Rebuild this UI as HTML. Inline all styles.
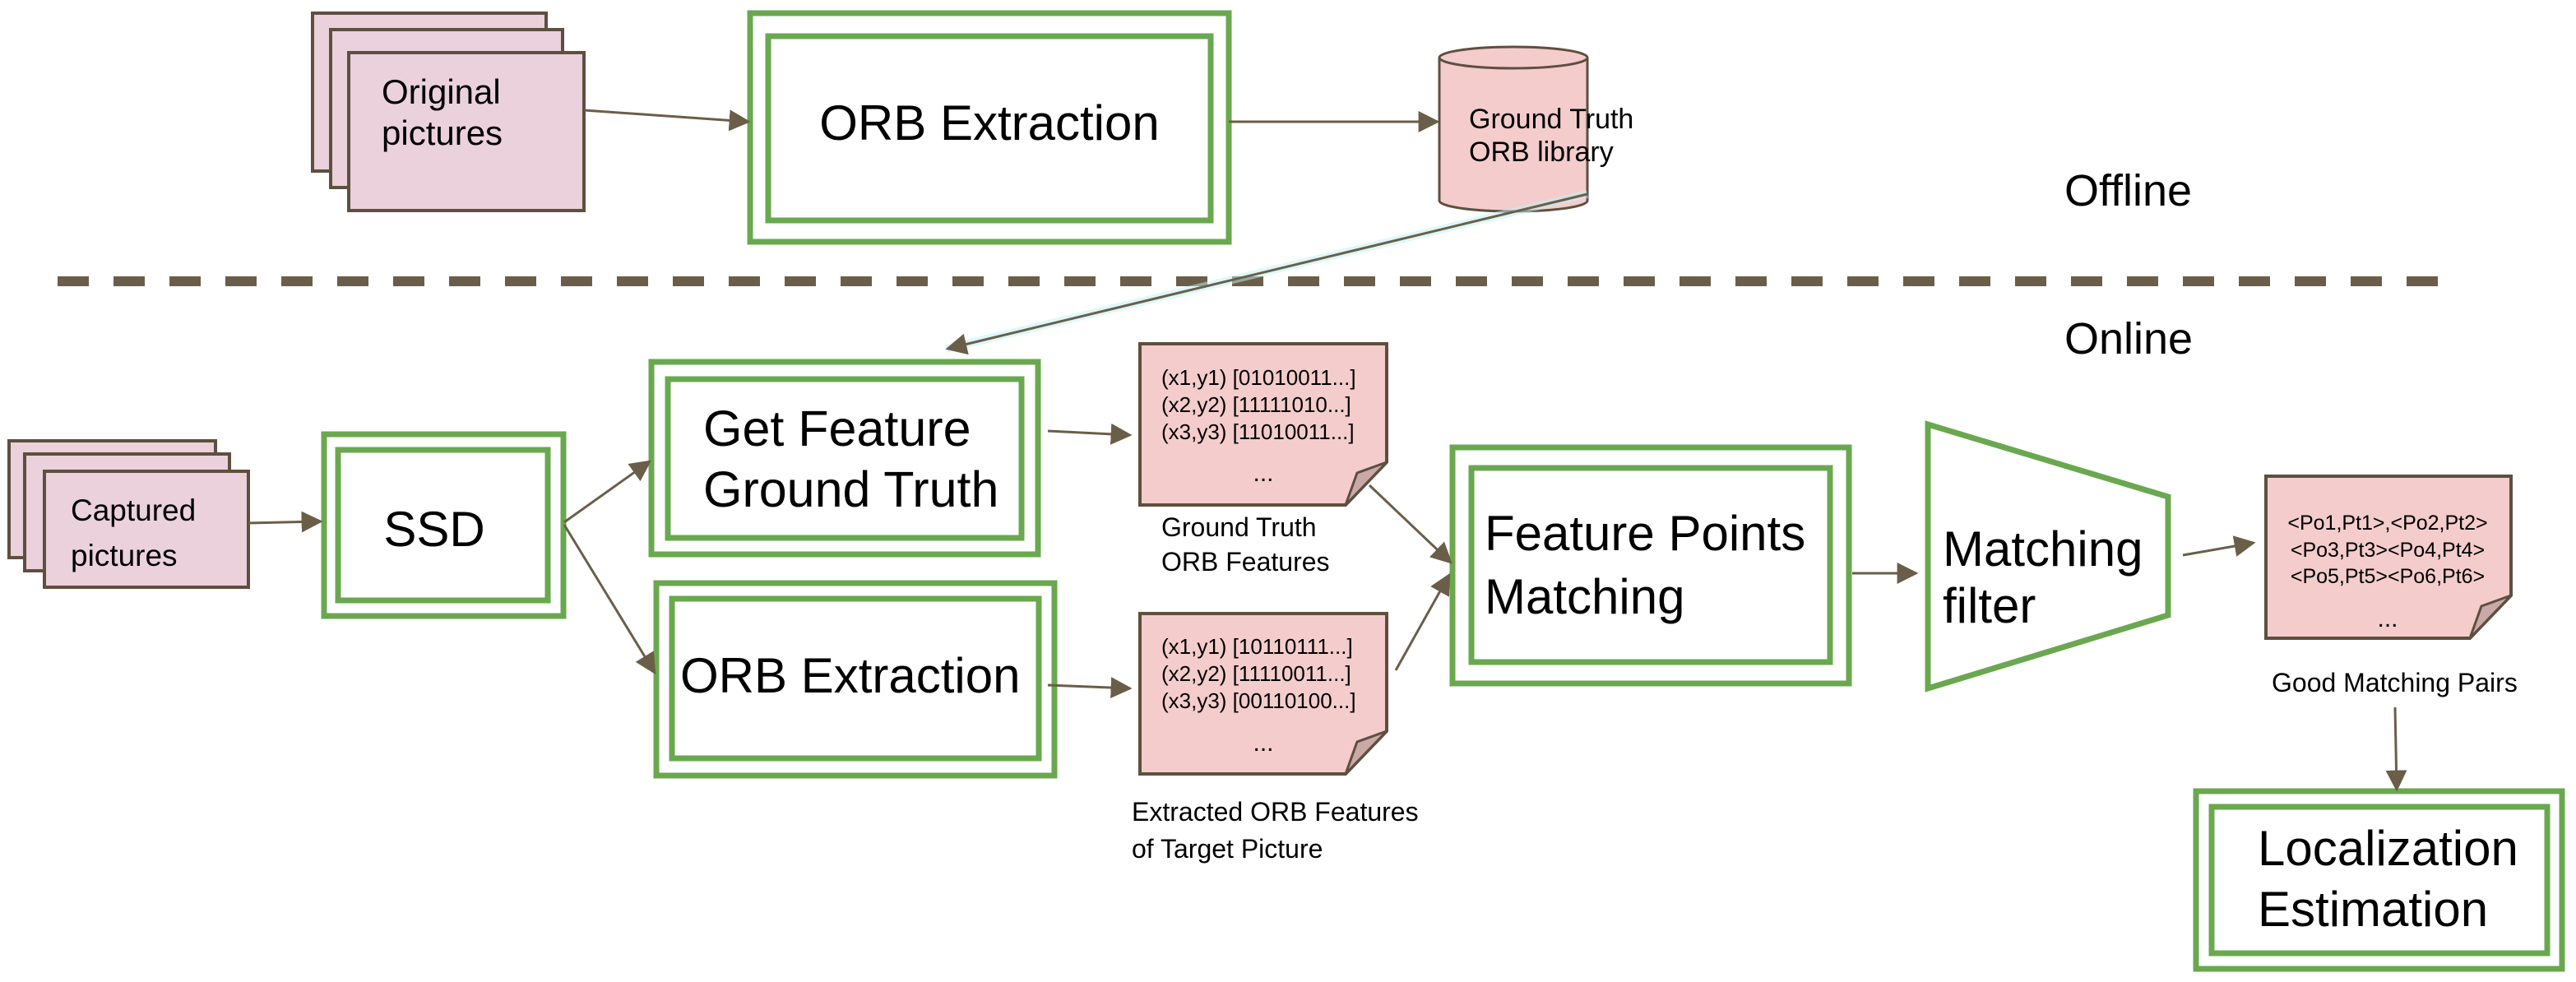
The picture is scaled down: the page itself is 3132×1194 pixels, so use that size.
<!DOCTYPE html>
<html><head><meta charset="utf-8"><style>
html,body{margin:0;padding:0;background:#fff}
svg{display:block}
text{font-family:"Liberation Sans",sans-serif;fill:#000}
</style></head><body>
<svg width="3132" height="1194" viewBox="0 0 3132 1194" xmlns="http://www.w3.org/2000/svg">
<defs>
<marker id="a" viewBox="0 0 10 10" refX="9" refY="5" markerWidth="26" markerHeight="26" markerUnits="userSpaceOnUse" orient="auto"><path d="M0,0 L10,5 L0,10 z" fill="#6b5e48"/></marker>
</defs>
<g fill="#ead1dc" stroke="#5e4f3f" stroke-width="4">
<rect x="380" y="16" width="284" height="192"/>
<rect x="402" y="36" width="282" height="192"/>
<rect x="424" y="64" width="286" height="192"/>
<rect x="11" y="536" width="251" height="142"/>
<rect x="30" y="552" width="249" height="142"/>
<rect x="54" y="573" width="248" height="141"/>
</g>
<text x="464" y="126" font-size="42">Original</text>
<text x="464" y="176" font-size="42">pictures</text>
<text x="86" y="633" font-size="37">Captured</text>
<text x="86" y="688" font-size="37">pictures</text>
<g fill="#fff" stroke="#6aa84f" stroke-width="7">
<rect x="912" y="16" width="582" height="278"/><rect x="934" y="44" width="538" height="224"/>
<rect x="394" y="528" width="291" height="221"/><rect x="411" y="547" width="255" height="183"/>
<rect x="792" y="440" width="470" height="234"/><rect x="812" y="461" width="430" height="193"/>
<rect x="798" y="709" width="484" height="234"/><rect x="817" y="728" width="446" height="194"/>
<rect x="1766" y="544" width="482" height="287"/><rect x="1789" y="569" width="436" height="236"/>
<rect x="2670" y="962" width="445" height="216"/><rect x="2689" y="981" width="408" height="178"/>
<path d="M2344,516 L2636,604 L2636,748 L2344,837 Z"/>
</g>
<text x="1203" y="170" font-size="60" text-anchor="middle">ORB Extraction</text>
<text x="528" y="664" font-size="60" text-anchor="middle">SSD</text>
<text x="855" y="542" font-size="61">Get Feature</text>
<text x="855" y="616" font-size="61">Ground Truth</text>
<text x="827" y="842" font-size="60">ORB Extraction</text>
<text x="1805" y="669" font-size="60">Feature Points</text>
<text x="1805" y="746" font-size="60">Matching</text>
<text x="2362" y="688" font-size="60">Matching</text>
<text x="2362" y="757" font-size="60">filter</text>
<text x="2745" y="1052" font-size="60">Localization</text>
<text x="2745" y="1126" font-size="60">Estimation</text>
<path d="M1750,70 L1750,244 A90,13 0 0 0 1930,244 L1930,70" fill="#f4cccc" stroke="#5e4f3f" stroke-width="3"/>
<ellipse cx="1840" cy="70" rx="90" ry="13" fill="#f4cccc" stroke="#5e4f3f" stroke-width="3"/>
<text x="1786" y="156" font-size="34">Ground Truth</text>
<text x="1786" y="196" font-size="34">ORB library</text>
<text x="2510" y="250" font-size="54">Offline</text>
<text x="2510" y="430" font-size="54">Online</text>
<line x1="70" y1="342" x2="2970" y2="342" stroke="#6b5e48" stroke-width="12" stroke-dasharray="38,30"/>
<g fill="#f4cccc" stroke="#5e4f3f" stroke-width="4">
<path d="M1386,418 L1686,418 L1686,562 L1636,614 L1386,614 Z"/>
<path d="M1386,746 L1686,746 L1686,889 L1636,941 L1386,941 Z"/>
<path d="M2755,579 L3053,579 L3053,724 L3003,776 L2755,776 Z"/>
</g>
<g fill="#c9a9a6" stroke="#5e4f3f" stroke-width="3">
<path d="M1686,562 L1650,575 L1636,614 Z"/>
<path d="M1686,889 L1650,902 L1636,941 Z"/>
<path d="M3053,724 L3017,737 L3003,776 Z"/>
</g>
<g font-size="26">
<text x="1412" y="468">(x1,y1) [01010011...]</text>
<text x="1412" y="501">(x2,y2) [11111010...]</text>
<text x="1412" y="534">(x3,y3) [11010011...]</text>
<text x="1536" y="585" text-anchor="middle" font-size="30">...</text>
<text x="1412" y="795">(x1,y1) [10110111...]</text>
<text x="1412" y="828">(x2,y2) [11110011...]</text>
<text x="1412" y="861">(x3,y3) [00110100...]</text>
<text x="1536" y="913" text-anchor="middle" font-size="30">...</text>
<text x="2903" y="644" text-anchor="middle" font-size="25">&lt;Po1,Pt1&gt;,&lt;Po2,Pt2&gt;</text>
<text x="2903" y="677" text-anchor="middle" font-size="25">&lt;Po3,Pt3&gt;&lt;Po4,Pt4&gt;</text>
<text x="2903" y="709" text-anchor="middle" font-size="25">&lt;Po5,Pt5&gt;&lt;Po6,Pt6&gt;</text>
<text x="2903" y="762" text-anchor="middle" font-size="30">...</text>
</g>
<g font-size="32">
<text x="1412" y="652">Ground Truth</text>
<text x="1412" y="694">ORB Features</text>
<text x="1376" y="998">Extracted ORB Features</text>
<text x="1376" y="1043">of Target Picture</text>
<text x="2762" y="841">Good Matching Pairs</text>
</g>
<line x1="1930" y1="236" x2="1150" y2="424" stroke="#bdf3f8" stroke-width="10" opacity="0.5"/>
<g stroke="#6b5e48" stroke-width="3" fill="none" marker-end="url(#a)">
<line x1="710" y1="134" x2="910" y2="148"/>
<line x1="1494" y1="148" x2="1748" y2="148"/>
<line x1="1930" y1="236" x2="1152" y2="424"/>
<line x1="302" y1="636" x2="390" y2="634"/>
<line x1="686" y1="635" x2="790" y2="561"/>
<line x1="686" y1="638" x2="796" y2="818"/>
<line x1="1274" y1="524" x2="1374" y2="529"/>
<line x1="1274" y1="833" x2="1374" y2="837"/>
<line x1="1665" y1="590" x2="1764" y2="684"/>
<line x1="1697" y1="815" x2="1762" y2="699"/>
<line x1="2252" y1="697" x2="2330" y2="697"/>
<line x1="2654" y1="675" x2="2740" y2="660"/>
<line x1="2912" y1="860" x2="2914" y2="960"/>
</g>
</svg>
</body></html>
